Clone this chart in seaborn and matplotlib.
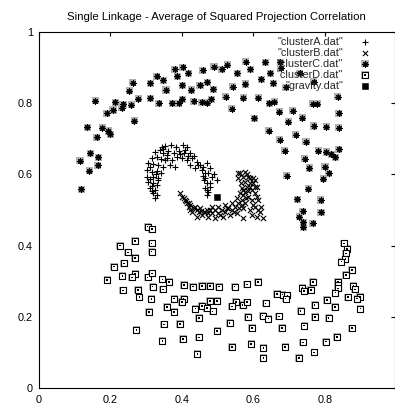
import matplotlib
matplotlib.use("Agg")
import matplotlib.pyplot as plt
import seaborn as sns
import pandas as pd

# ---------------- data ----------------
clusterA_x = [0.354, 0.370, 0.403, 0.414, 0.326, 0.338, 0.349, 0.363, 0.377, 0.391, 0.405, 0.423, 0.433,
              0.316, 0.330, 0.342, 0.358, 0.372, 0.386, 0.400, 0.414, 0.428, 0.442, 0.451, 0.307, 0.321,
              0.335, 0.349, 0.368, 0.382, 0.423, 0.437, 0.456, 0.465, 0.303, 0.316, 0.330, 0.342, 0.303,
              0.321, 0.335, 0.307, 0.321, 0.330, 0.312, 0.326, 0.321, 0.330, 0.326, 0.461, 0.470, 0.465,
              0.474, 0.470, 0.470, 0.479, 0.474, 0.484, 0.498, 0.479, 0.470, 0.344, 0.384,
              0.360, 0.395, 0.418, 0.445, 0.312, 0.328, 0.312, 0.316, 0.335, 0.458, 0.466, 0.480,
              0.460, 0.352, 0.410, 0.347, 0.316, 0.489]
clusterA_y = [0.680, 0.683, 0.683, 0.678, 0.664, 0.669, 0.661, 0.667, 0.661, 0.667, 0.659, 0.661, 0.652,
              0.645, 0.650, 0.642, 0.645, 0.640, 0.650, 0.645, 0.640, 0.645, 0.636, 0.626, 0.631, 0.629,
              0.626, 0.622, 0.626, 0.622, 0.626, 0.617, 0.612, 0.603, 0.612, 0.608, 0.610, 0.603, 0.594,
              0.594, 0.589, 0.580, 0.575, 0.570, 0.561, 0.556, 0.547, 0.542, 0.533, 0.584, 0.575, 0.561,
              0.551, 0.542, 0.631, 0.617, 0.603, 0.594, 0.584, 0.565, 0.556, 0.677, 0.677,
              0.655, 0.657, 0.652, 0.627, 0.620, 0.600, 0.588, 0.567, 0.583, 0.595, 0.590, 0.575,
              0.620, 0.640, 0.668, 0.670, 0.553, 0.600]

clusterB_x = [0.395, 0.400, 0.409, 0.405, 0.414, 0.423, 0.419, 0.433, 0.437, 0.442, 0.447, 0.451, 0.461,
              0.470, 0.474, 0.465, 0.484, 0.493, 0.502, 0.512, 0.521, 0.530, 0.540, 0.549, 0.558, 0.568,
              0.572, 0.577, 0.582, 0.577, 0.572, 0.563, 0.586, 0.591, 0.596, 0.586, 0.577, 0.596, 0.474,
              0.493, 0.516, 0.535, 0.554, 0.572, 0.605, 0.619, 0.596, 0.572, 0.628, 0.610, 0.484, 0.502,
              0.521, 0.540, 0.554, 0.563, 0.568, 0.566, 0.558, 0.558, 0.605, 0.610, 0.605, 0.614, 0.577,
              0.591, 0.600, 0.572, 0.610, 0.614, 0.591, 0.442, 0.457, 0.423,
              0.430, 0.455, 0.480, 0.508, 0.525, 0.545, 0.560, 0.580, 0.585, 0.590, 0.600, 0.582,
              0.567, 0.600, 0.622, 0.412, 0.420, 0.605]
clusterB_y = [0.547, 0.537, 0.528, 0.533, 0.519, 0.514, 0.509, 0.505, 0.509, 0.500, 0.495, 0.505, 0.495,
              0.500, 0.491, 0.495, 0.491, 0.500, 0.491, 0.500, 0.495, 0.505, 0.500, 0.509, 0.519, 0.528,
              0.542, 0.551, 0.565, 0.580, 0.594, 0.603, 0.594, 0.575, 0.556, 0.537, 0.519, 0.528, 0.481,
              0.477, 0.481, 0.486, 0.491, 0.505, 0.509, 0.495, 0.486, 0.477, 0.477, 0.481, 0.509, 0.509,
              0.514, 0.519, 0.533, 0.547, 0.561, 0.575, 0.589, 0.603, 0.584, 0.565, 0.547, 0.528, 0.608,
              0.589, 0.575, 0.556, 0.537, 0.500, 0.500, 0.481, 0.486, 0.500,
              0.495, 0.498, 0.500, 0.486, 0.505, 0.495, 0.505, 0.535, 0.552, 0.565, 0.590, 0.600,
              0.515, 0.515, 0.508, 0.524, 0.520, 0.565]

clusterC_x = [0.380, 0.403, 0.418, 0.387, 0.330, 0.349, 0.263, 0.312, 0.254, 0.356, 0.401, 0.426, 0.458,
              0.490, 0.512, 0.527, 0.579, 0.591, 0.555, 0.451, 0.471, 0.488, 0.543, 0.577, 0.523, 0.572,
              0.614, 0.539, 0.602, 0.158, 0.214, 0.236, 0.233, 0.259, 0.279, 0.312, 0.336, 0.374, 0.392,
              0.401, 0.433, 0.456, 0.471, 0.483, 0.208, 0.191, 0.267, 0.136, 0.178, 0.195, 0.200, 0.163,
              0.144, 0.167, 0.166, 0.116, 0.142, 0.120, 0.622, 0.633, 0.675, 0.676, 0.647, 0.730, 0.656,
              0.691, 0.769, 0.644, 0.658, 0.766, 0.779, 0.836, 0.672, 0.710, 0.838, 0.697, 0.736, 0.768,
              0.804, 0.838, 0.643, 0.718, 0.674, 0.747, 0.687, 0.781, 0.803, 0.818, 0.838, 0.829, 0.744,
              0.756, 0.800, 0.810, 0.693, 0.795, 0.753, 0.722, 0.788, 0.738, 0.789, 0.728, 0.740, 0.766,
              0.740]
clusterC_y = [0.895, 0.901, 0.884, 0.876, 0.876, 0.865, 0.858, 0.856, 0.835, 0.837, 0.850, 0.837, 0.893,
              0.903, 0.895, 0.908, 0.917, 0.895, 0.884, 0.850, 0.859, 0.839, 0.846, 0.854, 0.818, 0.815,
              0.815, 0.784, 0.758, 0.807, 0.803, 0.797, 0.787, 0.796, 0.812, 0.814, 0.800, 0.800, 0.800,
              0.811, 0.806, 0.803, 0.801, 0.811, 0.781, 0.772, 0.751, 0.732, 0.731, 0.722, 0.713, 0.704,
              0.659, 0.648, 0.626, 0.638, 0.610, 0.558, 0.867, 0.915, 0.915, 0.899, 0.884, 0.884, 0.856,
              0.845, 0.860, 0.800, 0.804, 0.798, 0.798, 0.818, 0.776, 0.779, 0.772, 0.748, 0.759, 0.736,
              0.734, 0.731, 0.723, 0.711, 0.697, 0.692, 0.667, 0.667, 0.663, 0.657, 0.671, 0.648, 0.644,
              0.618, 0.622, 0.603, 0.596, 0.588, 0.560, 0.530, 0.528, 0.497, 0.494, 0.481, 0.465, 0.463,
              0.451]

clusterD_x = [0.305, 0.317, 0.228, 0.269, 0.316, 0.250, 0.316, 0.269, 0.239, 0.211, 0.234, 0.270, 0.261,
              0.192, 0.305, 0.317, 0.346, 0.365, 0.319, 0.347, 0.406, 0.431, 0.457, 0.479, 0.504, 0.236,
              0.278, 0.282, 0.315, 0.379, 0.405, 0.400, 0.479, 0.498, 0.359, 0.379, 0.438, 0.456, 0.470,
              0.486, 0.309, 0.448, 0.350, 0.395, 0.499, 0.273, 0.346, 0.404, 0.448, 0.444, 0.853, 0.862,
              0.858, 0.857, 0.846, 0.875, 0.858, 0.766, 0.836, 0.836, 0.836, 0.879, 0.884, 0.737, 0.742,
              0.761, 0.829, 0.864, 0.898, 0.890, 0.899, 0.805, 0.771, 0.828, 0.732, 0.772, 0.810, 0.875,
              0.742, 0.834, 0.803, 0.738, 0.770, 0.727, 0.689, 0.628, 0.628, 0.594, 0.540, 0.680, 0.671,
              0.596, 0.534, 0.584, 0.626, 0.642, 0.634, 0.666, 0.682, 0.695, 0.690, 0.551, 0.570, 0.582,
              0.540, 0.548, 0.582, 0.613]
clusterD_y = [0.453, 0.446, 0.400, 0.413, 0.406, 0.381, 0.383, 0.365, 0.350, 0.341, 0.315, 0.321, 0.311,
              0.303, 0.311, 0.322, 0.305, 0.298, 0.285, 0.277, 0.289, 0.285, 0.287, 0.287, 0.285, 0.274,
              0.276, 0.255, 0.250, 0.251, 0.251, 0.242, 0.244, 0.244, 0.228, 0.213, 0.223, 0.230, 0.225,
              0.215, 0.213, 0.197, 0.179, 0.180, 0.160, 0.163, 0.132, 0.138, 0.142, 0.096, 0.406, 0.391,
              0.378, 0.362, 0.355, 0.331, 0.317, 0.298, 0.298, 0.288, 0.280, 0.287, 0.277, 0.282, 0.273,
              0.275, 0.268, 0.255, 0.256, 0.251, 0.223, 0.247, 0.233, 0.228, 0.217, 0.199, 0.197, 0.168,
              0.175, 0.143, 0.130, 0.128, 0.100, 0.084, 0.115, 0.112, 0.084, 0.124, 0.115, 0.169, 0.201,
              0.169, 0.183, 0.199, 0.203, 0.195, 0.238, 0.264, 0.262, 0.260, 0.251, 0.242, 0.233, 0.241,
              0.229, 0.285, 0.291, 0.298]

gravity_x = [0.498]
gravity_y = [0.537]

labels = ['"clusterA.dat"', '"clusterB.dat"', '"clusterC.dat"', '"clusterD.dat"', '"gravity.dat"']
title = "Single Linkage - Average of Squared Projection Correlation"
xticks = [0, 0.2, 0.4, 0.6, 0.8]
xticklabels = ["0", "0.2", "0.4", "0.6", "0.8"]
yticks = [0, 0.2, 0.4, 0.6, 0.8, 1.0]
yticklabels = ["0", "0.2", "0.4", "0.6", "0.8", "1"]

# ---------------- figure ----------------
sns.set_theme(style="white")
plt.rcParams["font.family"] = ["Liberation Sans", "DejaVu Sans"]
plt.rcParams["axes.edgecolor"] = "black"
plt.rcParams["axes.linewidth"] = 0.8

W, H = 395, 405
fig = plt.figure(figsize=(W / 100, H / 100), dpi=100)
x0, x1 = 38.5, 394.5
y0, y1 = 388, 32
ax = fig.add_axes([x0 / W, (H - y0) / H, (x1 - x0) / W, (y0 - y1) / H])

dfA = pd.DataFrame({"x": clusterA_x, "y": clusterA_y})
dfB = pd.DataFrame({"x": clusterB_x, "y": clusterB_y})
dfC = pd.DataFrame({"x": clusterC_x, "y": clusterC_y})
dfD = pd.DataFrame({"x": clusterD_x, "y": clusterD_y})
dfG = pd.DataFrame({"x": gravity_x, "y": gravity_y})

def sc(df, **kw):
    sns.scatterplot(data=df, x="x", y="y", ax=ax, legend=False, **kw)
    return ax.collections[-1]

hA = sc(dfA, marker="+", s=18, color="black", linewidth=0.8)
hB = sc(dfB, marker="x", s=14, color="black", linewidth=0.8)
hCh = sc(dfC, marker="s", s=26, color="#b0b0b0", edgecolor="none")
hC = sc(dfC, marker=(8, 2, 0), s=16, color="black", linewidth=0.8)
hDh = sc(dfD, marker="s", s=28, color="#b8b8b8", edgecolor="none")
hD = sc(dfD, marker="s", s=14, color="white", edgecolor="black", linewidth=0.8)
hDd = sc(dfD, marker="s", s=1.2, color="black", edgecolor="none")
hG = sc(dfG, marker="s", s=24, color="black", edgecolor="black")

ax.set_xlim(0, (x1 - 38.3) / 358.3)
ax.set_ylim(0, 1)
ax.set_xticks(xticks)
ax.set_xticklabels(xticklabels)
ax.set_yticks(yticks)
ax.set_yticklabels(yticklabels)
ax.set_xlabel("")
ax.set_ylabel("")
ax.tick_params(direction="in", length=3.2, width=0.8, top=True, right=True,
               labelsize=7.8, colors="black", pad=4)
ax.tick_params(axis="x", pad=5)
for sp in ax.spines.values():
    sp.set_visible(True)
    sp.set_color("black")
    sp.set_linewidth(0.8)

ax.set_title(title, fontsize=8.2, pad=9, color="black")

leg = ax.legend([hA, hB, (hCh, hC), (hDh, hD, hDd), hG], labels,
                loc="upper right", bbox_to_anchor=(0.9475, 0.987),
                frameon=False, markerfirst=False, fontsize=7.8,
                handlelength=2.0, handletextpad=1.04, labelspacing=0.1,
                borderpad=0, borderaxespad=0, scatterpoints=1)

fig.savefig("out.png", dpi=100)
